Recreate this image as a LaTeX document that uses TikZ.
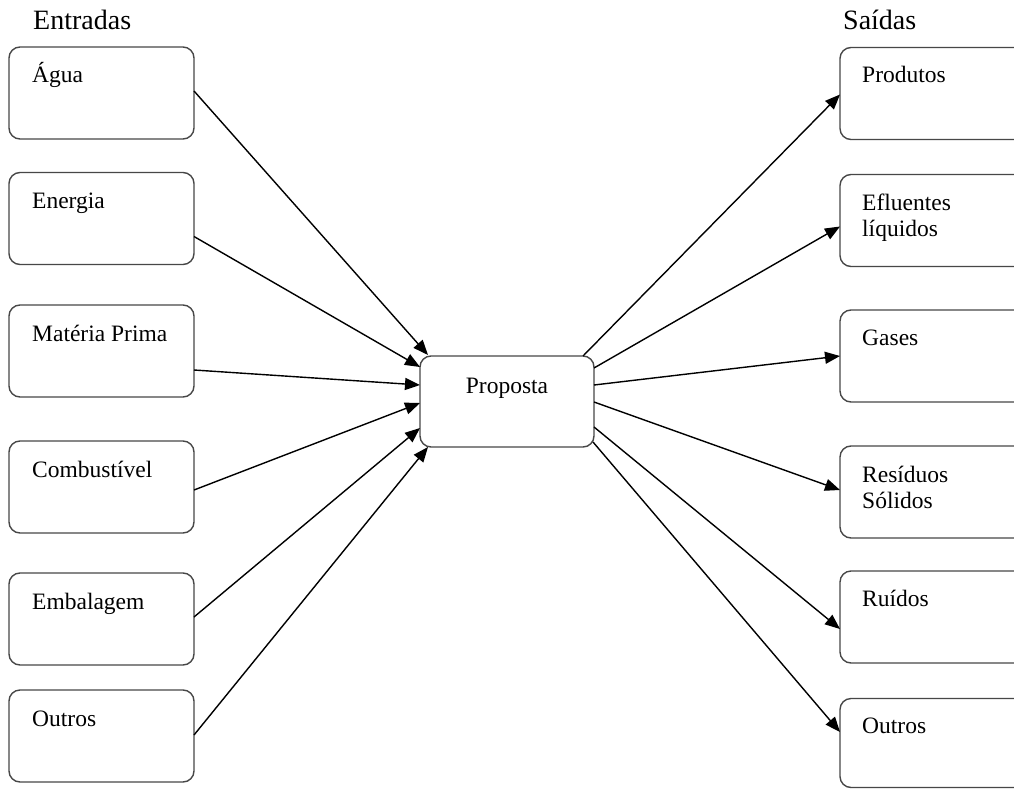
\documentclass[tikz,border=0pt]{standalone}
\usepackage{fontspec}
\setmainfont{Liberation Serif}
\usetikzlibrary{arrows.meta}
\begin{document}
\begin{tikzpicture}[x=1pt,y=-1pt,
  box/.style={draw=black!72, line width=1.4pt, rounded corners=11pt, minimum width=185pt, minimum height=92pt, outer sep=0pt, inner sep=0pt},
  rbox/.style={box, minimum width=200pt},
  txt/.style={anchor=base west, inner sep=0pt, align=left, font=\fontsize{23.5}{26}\selectfont},
  head/.style={anchor=base west, inner sep=0pt, font=\fontsize{28}{30}\selectfont},
  arr/.style={line width=1.4pt, -{Triangle[length=15pt,width=12pt]}}]
\useasboundingbox (0,0) rectangle (1014,789);
\clip (0,0) rectangle (1014,789);
\fill[white] (0,0) rectangle (1014,789);

% headers
\node[head] (hin) at (33,30) {Entradas};
\node[head] (hout) at (843,30) {Saídas};

% left boxes
\node[box] (agua) at (101.5,93) {};
\node[box] (energia) at (101.5,218.5) {};
\node[box] (materia) at (101.5,351) {};
\node[box] (comb) at (101.5,487) {};
\node[box] (emb) at (101.5,619) {};
\node[box] (outrosA) at (101.5,736) {};
\node[txt] (tagua) at ([shift={(23,36)}]agua.north west) {Água};
\node[txt] (tenergia) at ([shift={(23,36)}]energia.north west) {Energia};
\node[txt] (tmateria) at ([shift={(23,36)}]materia.north west) {Matéria Prima};
\node[txt] (tcomb) at ([shift={(23,36)}]comb.north west) {Combustível};
\node[txt] (temb) at ([shift={(23,36)}]emb.north west) {Embalagem};
\node[txt] (toutrosA) at ([shift={(23,36)}]outrosA.north west) {Outros};

% center
\node[box, minimum width=174pt, minimum height=91pt] (prop) at (507,401.5) {};
\node[anchor=base, inner sep=0pt, font=\fontsize{23.5}{26}\selectfont] (tprop) at ([shift={(0,37)}]prop.north) {Proposta};

% right boxes
\node[rbox] (prod) at (940,93.5) {};
\node[rbox] (eflu) at (940,220.5) {};
\node[rbox] (gases) at (940,356) {};
\node[rbox] (resid) at (940,492) {};
\node[rbox] (ruid) at (940,617) {};
\node[rbox, minimum height=89pt] (outrosB) at (940,743) {};
\node[txt] (tprod) at ([shift={(22,35)}]prod.north west) {Produtos};
\node[txt] (teflu) at ([shift={(22,62)}]eflu.north west) {Efluentes\\líquidos};
\node[txt] (tgases) at ([shift={(22,35)}]gases.north west) {Gases};
\node[txt] (tresid) at ([shift={(22,62)}]resid.north west) {Resíduos\\Sólidos};
\node[txt] (truid) at ([shift={(22,35)}]ruid.north west) {Ruídos};
\node[txt] (toutrosB) at ([shift={(22,35)}]outrosB.north west) {Outros};

% input arrows
\draw[arr] ([shift={(0,-2)}]agua.east) -- ([shift={(8,-46.5)}]prop.west);
\draw[arr] ([shift={(0,18)}]energia.east) -- ([shift={(0,-34.5)}]prop.west);
\draw[arr] ([shift={(0,19)}]materia.east) -- ([shift={(0,-16.5)}]prop.west);
\draw[arr] ([shift={(0,3)}]comb.east) -- ([shift={(0,1.5)}]prop.west);
\draw[arr] ([shift={(0,-2)}]emb.east) -- ([shift={(0,26.5)}]prop.west);
\draw[arr] ([shift={(0,-1)}]outrosA.east) -- ([shift={(8,45.5)}]prop.west);

% output arrows
\draw[arr] ([shift={(-11,-45.5)}]prop.east) -- ([shift={(0,1)}]prod.west);
\draw[arr] ([shift={(0,-33.5)}]prop.east) -- ([shift={(0,6)}]eflu.west);
\draw[arr] ([shift={(0,-16.5)}]prop.east) -- (gases.west);
\draw[arr] ([shift={(0,0.5)}]prop.east) -- ([shift={(0,-2)}]resid.west);
\draw[arr] ([shift={(0,25.5)}]prop.east) -- ([shift={(0,12)}]ruid.west);
\draw[arr] ([shift={(-1,40.5)}]prop.east) -- ([shift={(0,-11)}]outrosB.west);
\end{tikzpicture}
\end{document}
